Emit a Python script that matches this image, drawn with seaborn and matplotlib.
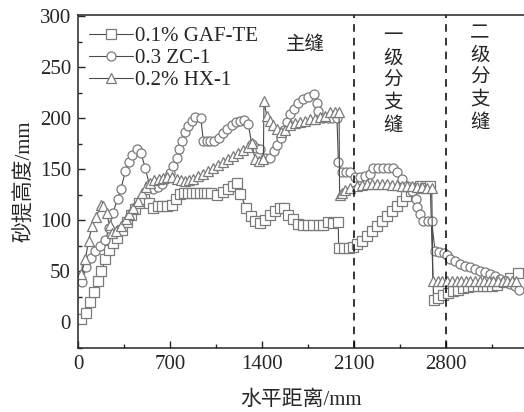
import matplotlib
matplotlib.use("Agg")
import matplotlib.pyplot as plt
import seaborn as sns
import pandas as pd
from matplotlib.ticker import MultipleLocator

# ---------------- data ----------------
gaf_x = [20, 58, 88, 122, 150, 178, 208, 235, 268, 300, 338, 370, 403, 436, 467, 505, 538, 568,
         606, 640, 675, 712, 742, 775, 805, 835, 865, 895, 925, 955, 985, 1015, 1060, 1100, 1140,
         1180, 1210, 1235, 1278, 1314, 1347, 1385, 1423, 1461, 1499, 1537, 1570, 1600, 1638, 1676,
         1714, 1750, 1790, 1830, 1866, 1905, 1943, 1980, 1983, 2020, 2060, 2095, 2120, 2158, 2197,
         2235, 2273, 2311, 2349, 2387, 2425, 2463, 2495, 2530, 2564, 2602, 2640, 2680, 2705, 2740,
         2780, 2818, 2856, 2894, 2932, 2970, 3008, 3045, 3080, 3115, 3150, 3185, 3240, 3290, 3345]
gaf_y = [3, 9, 20, 30, 41, 50, 62, 71, 78, 83, 91, 98, 105, 111, 117, 121, 117, 112,
         114, 114, 114, 115, 121, 126, 127, 127, 127, 127, 127, 127, 127, 127, 125, 128, 131,
         134, 137, 126, 112, 104, 99, 97, 100, 105, 109, 112, 112, 105, 101, 96,
         95, 95, 95, 95, 95, 98, 97, 98, 73, 73, 73, 74, 77, 80, 85,
         90, 94, 99, 104, 109, 114, 119, 124, 129, 132, 134, 132, 134, 22, 24,
         27, 29, 31, 32, 34, 35, 36, 36, 36, 36, 36, 37, 40, 44, 48]

zc_x = [30, 61, 99, 132, 167, 208, 238, 264, 302, 327, 360, 386, 411, 449, 479, 512, 543, 573,
        606, 638, 670, 700, 725, 750, 770, 789, 814, 839, 865, 890, 934, 954, 979, 1005, 1036,
        1075, 1106, 1136, 1169, 1202, 1233, 1263, 1296, 1321, 1354, 1385, 1423, 1461, 1491, 1517,
        1542, 1570, 1593, 1613, 1644, 1676, 1714, 1752, 1796, 1816, 1829, 1866, 1900, 1935, 1970,
        1981, 2006, 2039, 2070, 2108, 2146, 2184, 2222, 2247, 2285, 2323, 2361, 2400, 2425, 2463,
        2501, 2539, 2572, 2582, 2602, 2628, 2661, 2691, 2716, 2749, 2785, 2810, 2830, 2869, 2907,
        2945, 2983, 3021, 3059, 3097, 3135, 3173, 3211, 3249, 3287, 3325, 3358]
zc_y = [40, 54, 63, 70, 75, 81, 92, 107, 121, 131, 148, 157, 164, 170, 166, 151, 135, 131,
        133, 136, 140, 146, 153, 161, 170, 178, 186, 192, 197, 201, 200, 178, 178, 178, 178,
        181, 185, 189, 193, 196, 197, 198, 194, 175, 171, 170, 161, 161, 168, 174,
        181, 188, 196, 204, 209, 215, 219, 221, 224, 215, 207, 200, 200, 200, 200,
        157, 147, 147, 147, 142, 142, 143, 145, 151, 151, 151, 151, 151, 147, 140,
        134, 129, 121, 113, 106, 99, 99, 99, 70, 69, 68, 66, 62, 60, 57,
        55, 54, 52, 50, 49, 47, 45, 43, 41, 38, 36, 32]

hx_x = [23, 56, 81, 106, 137, 175, 193, 218, 240, 259, 290, 327, 365, 391, 421, 454, 487, 517,
        548, 578, 614, 649, 680, 718, 751, 785, 815, 845, 877, 915, 954, 991, 1029, 1068, 1106,
        1144, 1182, 1220, 1258, 1296, 1321, 1347, 1380, 1410, 1415, 1436, 1461, 1486, 1512, 1542,
        1575, 1613, 1651, 1689, 1727, 1765, 1803, 1841, 1879, 1917, 1955, 1986, 1990, 2010, 2032,
        2070, 2120, 2158, 2197, 2235, 2273, 2311, 2349, 2387, 2425, 2463, 2501, 2539, 2577, 2615,
        2653, 2691, 2700, 2735, 2770, 2810, 2845, 2880, 2915, 2950, 2985, 3020, 3055, 3090, 3125,
        3160, 3195, 3230, 3265, 3300, 3335]
hx_y = [47, 62, 80, 94, 103, 115, 114, 107, 95, 88, 90, 94, 101, 106, 112, 119, 127, 133,
        137, 139, 140, 141, 142, 142, 140, 139, 138, 139, 140, 143, 145, 148, 151, 154, 157,
        160, 163, 166, 169, 172, 176, 160, 158, 160, 217, 202, 197, 193, 189, 186,
        188, 193, 195, 196, 197, 199, 199, 201, 202, 206, 206, 206, 125, 127, 130,
        132, 134, 135, 136, 136, 136, 136, 136, 135, 135, 134, 134, 134, 133, 133,
        132, 132, 41, 41, 41, 41, 41, 41, 41, 41, 41, 41, 41, 41, 41,
        41, 41, 41, 41, 41, 41]

labels = ["0.1% GAF-TE", "0.3 ZC-1", "0.2% HX-1"]
x_ticks = [0, 700, 1400, 2100, 2800]
y_ticks = [0, 50, 100, 150, 200, 250, 300]
boundaries = [2100, 2800]

# ---------------- style ----------------
sns.set_style("ticks")
plt.rcParams['font.family'] = ['Liberation Serif', 'Noto Sans CJK SC', 'DejaVu Sans']
plt.rcParams['mathtext.default'] = 'regular'

fig = plt.figure(figsize=(5.24, 4.12), dpi=100)
ax = fig.add_axes([78 / 524, 1 - 348 / 412, 1 - 78 / 524, (348 - 15) / 412])

series = [(gaf_x, gaf_y, 's', labels[0]),
          (zc_x, zc_y, 'o', labels[1]),
          (hx_x, hx_y, '^', labels[2])]
for xs, ys, mk, lab in series:
    df = pd.DataFrame({"x": xs, "y": ys})
    sns.lineplot(data=df, x="x", y="y", ax=ax, sort=False, estimator=None,
                 color="#4a4a4a", lw=0.8, marker=mk, markersize=6.5,
                 markerfacecolor="white", markeredgecolor="#7a7a7a",
                 markeredgewidth=0.9, label=lab)

for b in boundaries:
    ax.axvline(b, color="black", lw=1.1, ls=(0, (5, 4)))

ax.set_xlim(0, 3393)
ax.set_ylim(-25, 301)
ax.set_xticks(x_ticks)
ax.set_yticks(y_ticks)
ax.xaxis.set_minor_locator(MultipleLocator(350))
ax.yaxis.set_minor_locator(MultipleLocator(25))
ax.tick_params(which='major', direction='in', length=5, width=1, labelsize=15, pad=5)
ax.tick_params(which='minor', direction='in', length=3, width=1)
ax.spines['right'].set_visible(False)
for s in ['left', 'bottom', 'top']:
    ax.spines[s].set_linewidth(1.1)

ax.set_xlabel("水平距离/mm", fontsize=15, labelpad=12)
ax.set_ylabel("砂提高度/mm", fontsize=15, labelpad=3)

ax.text(1727, 272, "主缝", fontsize=14, ha='center', va='center')
ax.text(2397, 236, "一\n级\n分\n支\n缝", fontsize=14, ha='center', va='center', linespacing=1.35)
ax.text(3059, 239, "二\n级\n分\n支\n缝", fontsize=14, ha='center', va='center', linespacing=1.35)

leg = ax.legend(loc='upper left', frameon=False, fontsize=15, handlelength=2.1,
                handletextpad=0.1, labelspacing=0.12, borderaxespad=0.15,
                bbox_to_anchor=(0.0, 1.0))

fig.savefig("out.png", dpi=100)
